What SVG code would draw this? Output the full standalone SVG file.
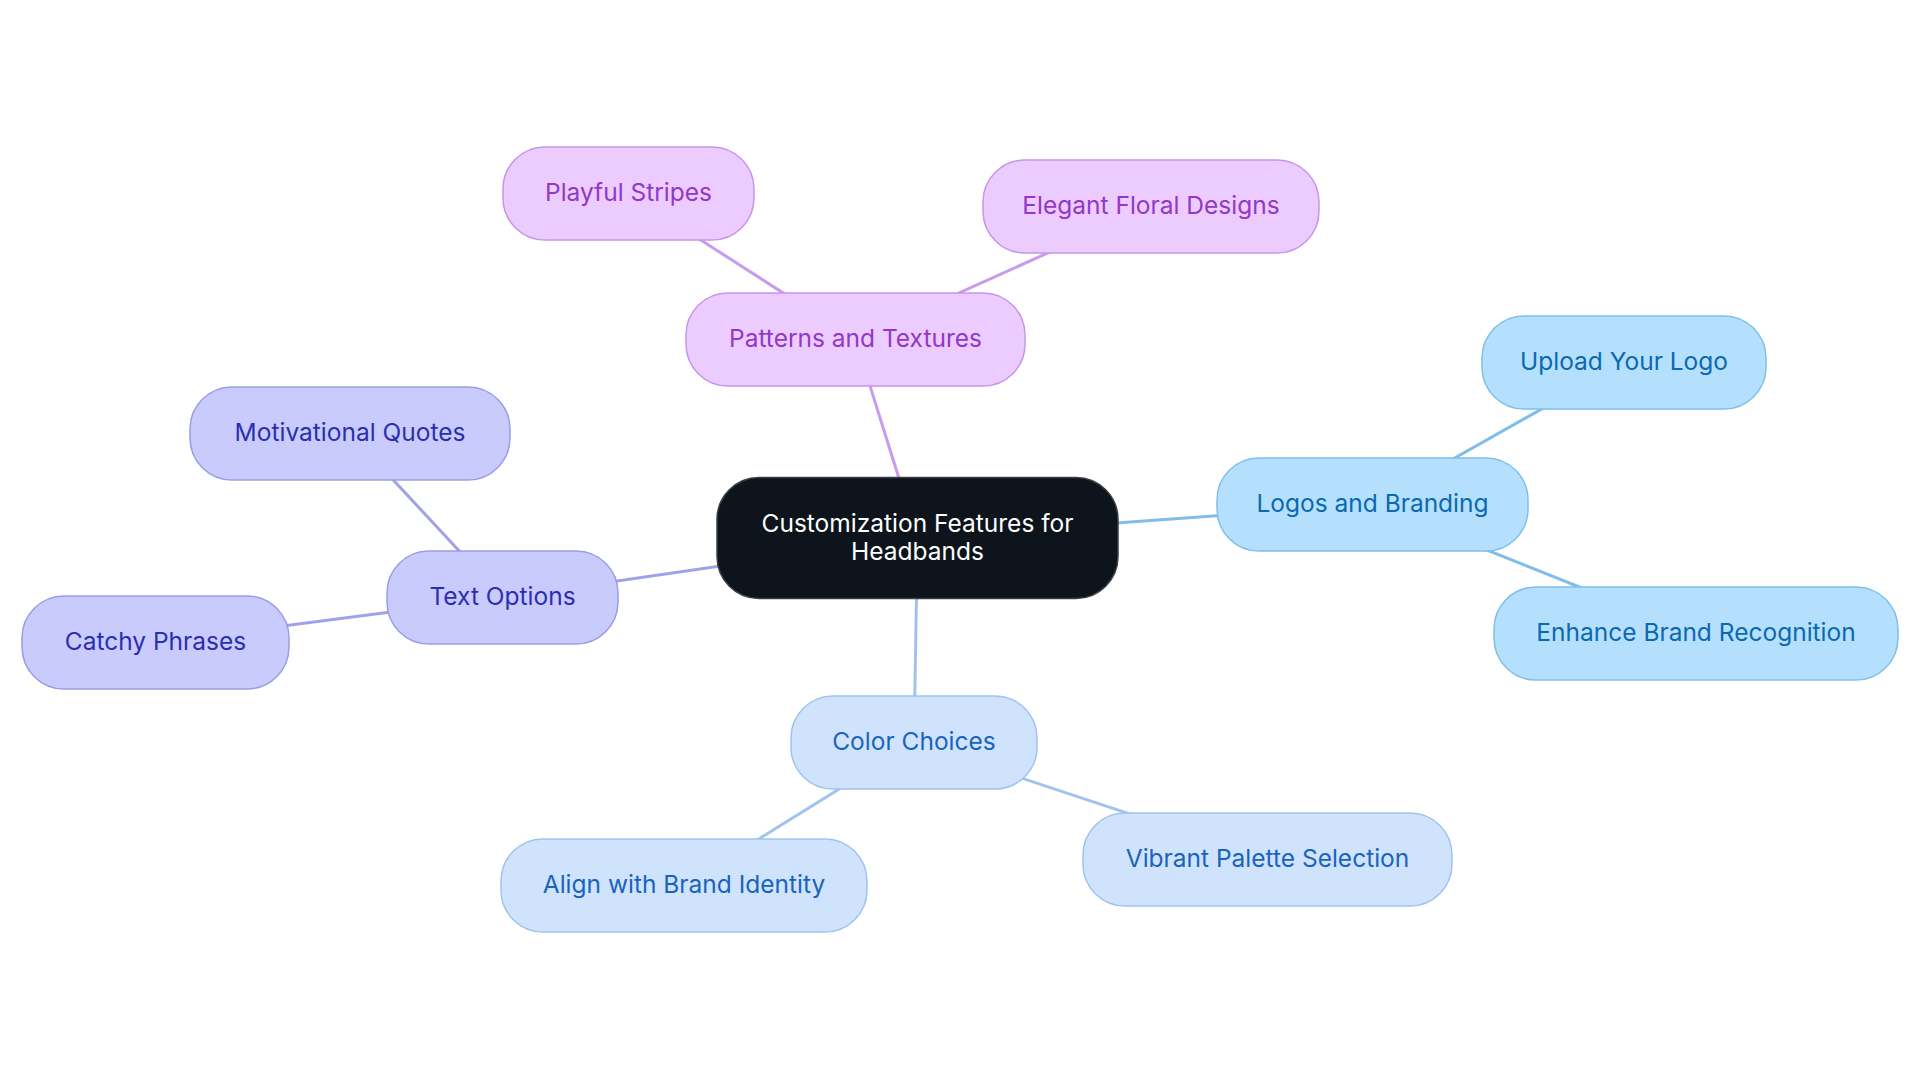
<svg xmlns="http://www.w3.org/2000/svg" width="1920" height="1083" viewBox="0 0 1920 1083">
<style>
text{font-family:Inter,"Noto Sans","Liberation Sans",sans-serif;font-size:24.5px;text-anchor:middle}
rect{stroke-width:1.5}
.c line{stroke-width:3;fill:none}
.pu rect{fill:#eccbfe;stroke:#c795e8}.pu text{fill:#9238c8}
.in rect{fill:#c9cbfd;stroke:#9a9de6}.in text{fill:#2c2eb0}
.sk rect{fill:#b5e0fd;stroke:#7fbfe8}.sk text{fill:#0b69b0}
.bl rect{fill:#cfe4fc;stroke:#9fc3ec}.bl text{fill:#1a63bd}
</style>
<rect width="1920" height="1083" fill="#ffffff"/>
<g class="c" id="connectors">
<line x1="917.5" y1="537.5" x2="855.5" y2="339.5" stroke="#c89ceb"/>
<line x1="855.5" y1="339.5" x2="628.5" y2="193.5" stroke="#c89ceb"/>
<line x1="855.5" y1="339.5" x2="1151" y2="206.5" stroke="#c89ceb"/>
<line x1="917.5" y1="537.5" x2="502.5" y2="597.5" stroke="#9fa2e9"/>
<line x1="502.5" y1="597.5" x2="350" y2="433.5" stroke="#9fa2e9"/>
<line x1="502.5" y1="597.5" x2="155.5" y2="642.5" stroke="#9fa2e9"/>
<line x1="917.5" y1="537.5" x2="1372.5" y2="504.5" stroke="#80bdea"/>
<line x1="1372.5" y1="504.5" x2="1624" y2="362.5" stroke="#80bdea"/>
<line x1="1372.5" y1="504.5" x2="1696" y2="633.5" stroke="#80bdea"/>
<line x1="917.5" y1="537.5" x2="914" y2="742.5" stroke="#a0c4ee"/>
<line x1="914" y1="742.5" x2="684" y2="885.5" stroke="#a0c4ee"/>
<line x1="914" y1="742.5" x2="1267.5" y2="859.5" stroke="#a0c4ee"/>
</g>
<g id="center"><rect x="717" y="477.5" width="401" height="121" rx="42" fill="#0d141b" stroke="#3a3f46" stroke-width="1.5"/>
<text x="917.5" y="531.5" fill="#ffffff">Customization Features for</text><text x="917.5" y="559.5" fill="#ffffff">Headbands</text></g>
<g id="patterns" class="pu"><rect x="686" y="293" width="339" height="93" rx="42"/><text x="855.5" y="346.5">Patterns and Textures</text></g>
<g id="playful" class="pu"><rect x="503" y="147" width="251" height="93" rx="42"/><text x="628.5" y="200.5">Playful Stripes</text></g>
<g id="floral" class="pu"><rect x="983" y="160" width="336" height="93" rx="42"/><text x="1151" y="213.5">Elegant Floral Designs</text></g>
<g id="textopts" class="in"><rect x="387" y="551" width="231" height="93" rx="42"/><text x="502.5" y="604.5">Text Options</text></g>
<g id="motiv" class="in"><rect x="190" y="387" width="320" height="93" rx="42"/><text x="350" y="440.5">Motivational Quotes</text></g>
<g id="catchy" class="in"><rect x="22" y="596" width="267" height="93" rx="42"/><text x="155.5" y="649.5">Catchy Phrases</text></g>
<g id="logos" class="sk"><rect x="1217" y="458" width="311" height="93" rx="42"/><text x="1372.5" y="511.5">Logos and Branding</text></g>
<g id="upload" class="sk"><rect x="1482" y="316" width="284" height="93" rx="42"/><text x="1624" y="369.5">Upload Your Logo</text></g>
<g id="enhance" class="sk"><rect x="1494" y="587" width="404" height="93" rx="42"/><text x="1696" y="640.5">Enhance Brand Recognition</text></g>
<g id="color" class="bl"><rect x="791" y="696" width="246" height="93" rx="42"/><text x="914" y="749.5">Color Choices</text></g>
<g id="align" class="bl"><rect x="501" y="839" width="366" height="93" rx="42"/><text x="684" y="892.5">Align with Brand Identity</text></g>
<g id="vibrant" class="bl"><rect x="1083" y="813" width="369" height="93" rx="42"/><text x="1267.5" y="866.5">Vibrant Palette Selection</text></g>
</svg>
